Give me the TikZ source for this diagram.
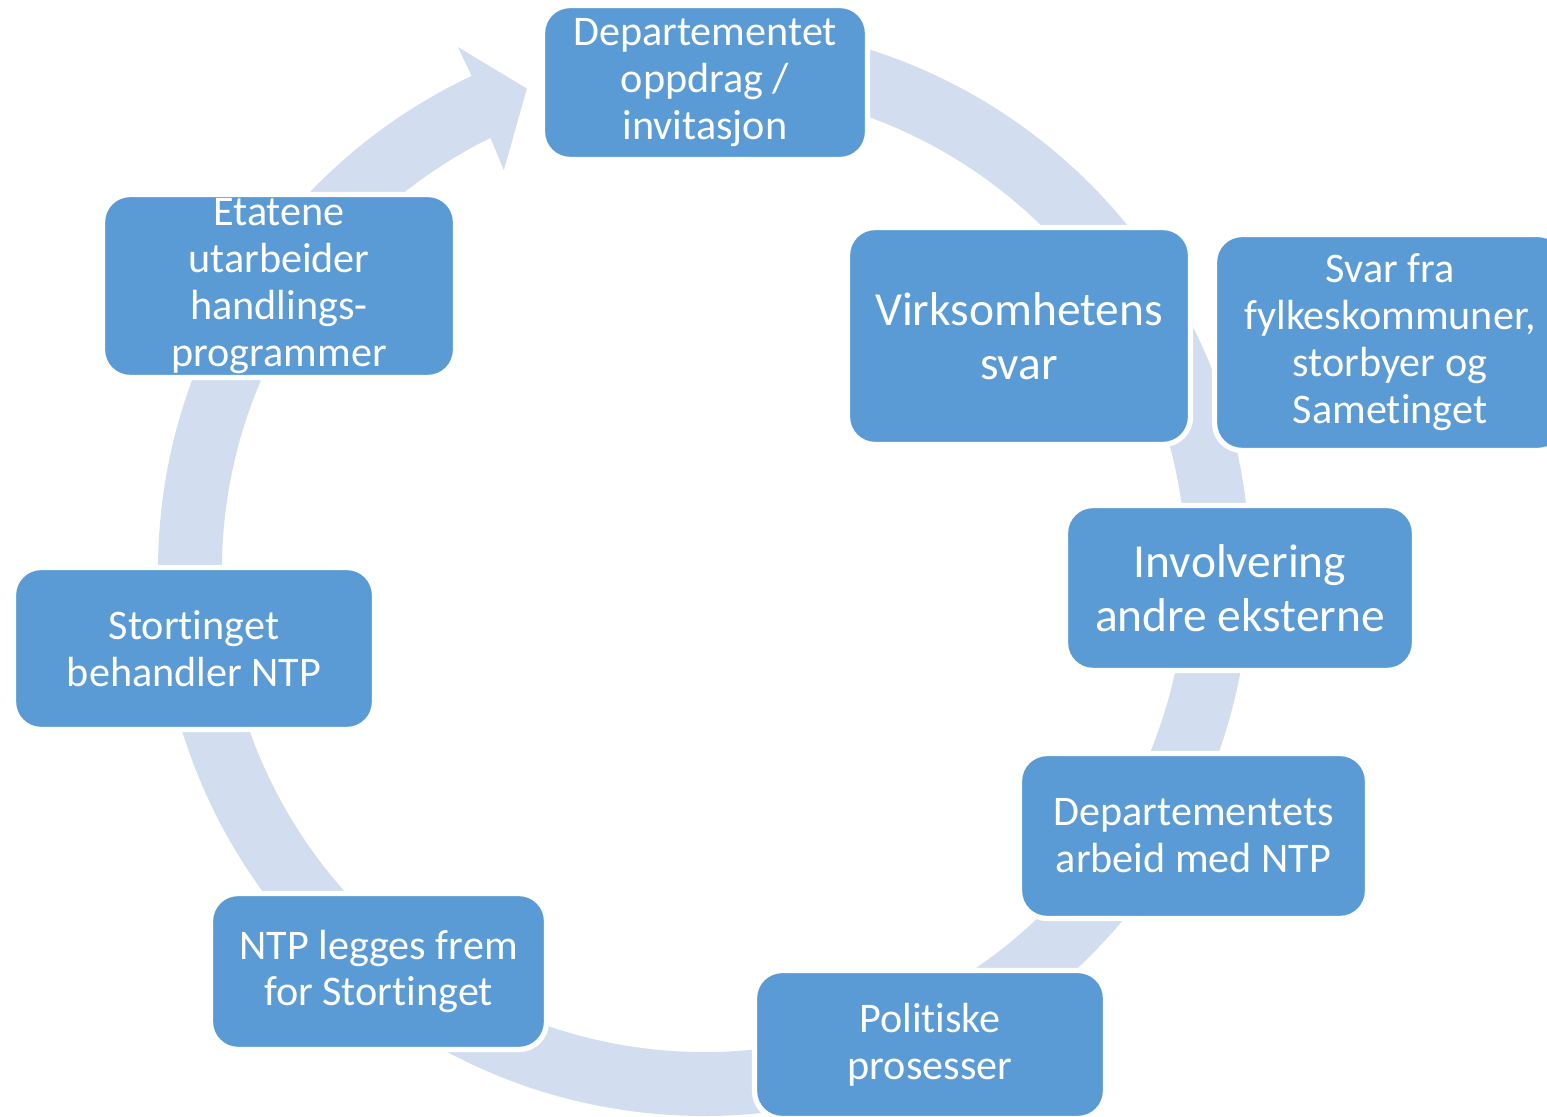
\documentclass[tikz,border=0pt]{standalone}
\usepackage{fontspec}
\setmainfont{Carlito}[RawFeature={-liga;-clig;-dlig;-calt}]
\usepackage{xcolor}
\definecolor{stageblue}{HTML}{5B9BD5}
\definecolor{ringblue}{HTML}{D2DEEF}

\begin{document}
\begin{tikzpicture}[
  stage/.style={draw=white,line width=3pt,fill=stageblue,rounded corners=0.55cm,
    text=white,align=center,inner sep=0pt,font=\fontsize{24}{26.7}\selectfont},
  bigstage/.style={stage,font=\fontsize{27}{30.5}\selectfont},
]
  \useasboundingbox (0,0) rectangle (30.94,22.34);
  % the cycle arrow behind the boxes
  \fill[ringblue,shift={(14.08,10.94)}]
    (88:10.92) arc[start angle=88,end angle=-244.8,radius=10.92]
    -- (-244.8:11.56) -- (-249.8:10.26) -- (-243.4:8.94) -- (-243.7:9.64)
    arc[start angle=-243.7,end angle=88,radius=9.64] -- cycle;
  \node[stage,minimum width=6.5cm,minimum height=3.08cm] (dep) at (14.10,20.69) {Departementet\\oppdrag /\\invitasjon};
  \node[bigstage,minimum width=6.86cm,minimum height=4.34cm] (virk) at (20.38,15.62) {Virksomhetens\\svar};
  \node[stage,minimum width=7.02cm,minimum height=4.32cm] (svar) at (27.80,15.49) {Svar fra\\fylkeskommuner,\\storbyer og\\Sametinget};
  \node[bigstage,minimum width=6.98cm,minimum height=3.3cm] (inv) at (24.80,10.58) {Involvering\\andre eksterne};
  \node[stage,minimum width=6.96cm,minimum height=3.3cm] (arb) at (23.87,5.62) {Departementets\\arbeid med NTP};
  \node[stage,minimum width=7.02cm,minimum height=2.96cm] (pol) at (18.60,1.45) {Politiske\\prosesser};
  \node[stage,minimum width=6.72cm,minimum height=3.12cm] (frem) at (7.57,2.91) {NTP legges frem\\for Stortinget};
  \node[stage,minimum width=7.22cm,minimum height=3.24cm] (storting) at (3.88,9.37) {Stortinget\\behandler NTP};
  \node[stage,minimum width=7.06cm,minimum height=3.66cm] (etat) at (5.58,16.62) {Etatene\\utarbeider\\handlings-\\programmer};
\end{tikzpicture}
\end{document}
